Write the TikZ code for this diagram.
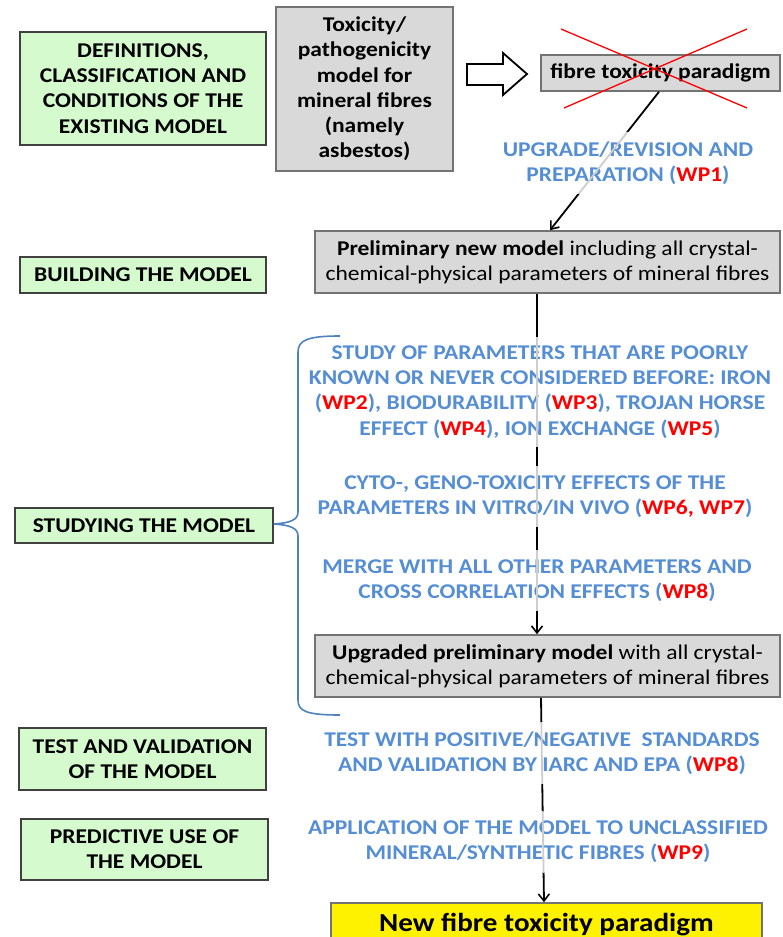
\documentclass[tikz,border=0pt]{standalone}
\usepackage{fontspec}
\setmainfont{Carlito}[FakeStretch=1.12]
\usetikzlibrary{arrows.meta,calc}
\definecolor{gfill}{RGB}{212,250,206}
\definecolor{boxgray}{RGB}{217,217,217}
\definecolor{bluetxt}{RGB}{85,142,213}
\definecolor{wpred}{RGB}{255,0,0}
\definecolor{bracecol}{RGB}{79,129,189}
\definecolor{ghostcol}{RGB}{205,205,205}
\newcommand{\wpr}[1]{{\color{wpred}#1}}
\begin{document}
\begin{tikzpicture}[x=1pt,y=-1pt,
  every node/.style={font=\fontsize{21}{25.2}\selectfont},
  greenbox/.style={draw=black!75, line width=1.2pt, fill=gfill, align=center, inner sep=0pt, font=\fontsize{21}{25.2}\selectfont\bfseries},
  graybox/.style={draw=black!55, line width=1.6pt, fill=boxgray, align=center, inner sep=0pt},
  bluetext/.style={text=bluetxt, align=center, fill=white, inner xsep=3pt, inner ysep=9pt, font=\fontsize{21}{25.2}\selectfont\bfseries},
  conn/.style={draw=black, line width=1.8pt, -{Straight Barb[length=7pt,width=11pt,line width=1.6pt]}},
  ghost/.style={draw=ghostcol, line width=1.8pt},
  bracestyle/.style={draw=bracecol, line width=1.6pt}
]
\useasboundingbox (0,0) rectangle (782,937);

% green category boxes
\node[greenbox, minimum width=246pt, minimum height=113pt] (g1) at (143,88.5) {DEFINITIONS,\\CLASSIFICATION AND\\CONDITIONS OF THE\\EXISTING MODEL};
\node[greenbox, minimum width=246pt, minimum height=36pt] (g2) at (143,275) {BUILDING THE MODEL};
\node[greenbox, minimum width=258pt, minimum height=35pt] (g3) at (144,525.5) {STUDYING THE MODEL};
\node[greenbox, minimum width=247pt, minimum height=62pt] (g4) at (142.5,759) {TEST AND VALIDATION\\OF THE MODEL};
\node[greenbox, minimum width=247pt, minimum height=61pt] (g5) at (144.5,849.5) {PREDICTIVE USE OF\\THE MODEL};

% gray model boxes
\node[graybox, minimum width=177pt, minimum height=164pt, font=\fontsize{21}{25.2}\selectfont\bfseries] (tox) at (364.5,89) {Toxicity/\\pathogenicity\\model for\\mineral fibres\\(namely\\asbestos)};
\node[graybox, minimum width=239pt, minimum height=36pt, font=\fontsize{21}{25.2}\selectfont\bfseries] (par) at (660.5,73) {fibre toxicity paradigm};
\node[graybox, minimum width=465pt, minimum height=62pt] (prelim) at (547.5,262) {\textbf{Preliminary new model} including all crystal-\\chemical-physical parameters of mineral fibres};
\node[graybox, minimum width=465pt, minimum height=62pt] (upg) at (547.5,666) {\textbf{Upgraded preliminary model} with all crystal-\\chemical-physical parameters of mineral fibres};
\node[draw=black!55, line width=1.6pt, fill=yellow, minimum width=431pt, minimum height=44pt, font=\fontsize{26}{30}\selectfont\bfseries] (yel) at (546.5,925) {New fibre toxicity paradigm};

% hollow block arrow
\draw[line width=1.8pt, fill=white] (467,64) -- (503,64) -- (503,53) -- (527,74) -- (503,95) -- (503,85) -- (467,85) -- cycle;

% crossing out
\draw[wpred, line width=1.3pt] (561,29) -- (747,108);
\draw[wpred, line width=1.3pt] (747,29) -- (564,108);

% connectors
\coordinate (a0) at ($(par.south)+(-1.5,0)$);
\coordinate (a1) at ($(prelim.north)+(2.5,0)$);
\draw[conn] (a0) -- (a1);
\coordinate (b0) at ($(prelim.south)+(-10.5,0)$);
\coordinate (b1) at ($(upg.north)+(-10.5,0)$);
\draw[conn] (b0) -- (b1);
\coordinate (c0) at ($(upg.south)+(-6.5,0)$);
\coordinate (c1) at ($(yel.north)+(-2.5,0)$);
\draw[conn] (c0) -- (c1);

% blue step texts
\node[bluetext] (t0) at (628,163) {UPGRADE/REVISION AND\\PREPARATION (\wpr{WP1})};
\node[bluetext] (t1) at (540,392) {STUDY OF PARAMETERS THAT ARE POORLY\\KNOWN OR NEVER CONSIDERED BEFORE: IRON\\(\wpr{WP2}), BIODURABILITY (\wpr{WP3}), TROJAN HORSE\\EFFECT (\wpr{WP4}), ION EXCHANGE (\wpr{WP5})};
\node[bluetext] (t2) at (535,496.5) {CYTO-, GENO-TOXICITY EFFECTS OF THE\\PARAMETERS IN VITRO/IN VIVO (\wpr{WP6, WP7})};
\node[bluetext] (t3) at (537,580.5) {MERGE WITH ALL OTHER PARAMETERS AND\\CROSS CORRELATION EFFECTS (\wpr{WP8})};
\node[bluetext] (t4) at (542,753) {TEST WITH POSITIVE/NEGATIVE\ \ STANDARDS\\AND VALIDATION BY IARC AND EPA (\wpr{WP8})};
\node[bluetext] (t5) at (538,842) {APPLICATION OF THE MODEL TO UNCLASSIFIED\\MINERAL/SYNTHETIC FIBRES (\wpr{WP9})};

% faint line through the texts
\begin{scope}
\clip (t0.north west) rectangle (t0.south east);
\draw[ghost] (a0) -- (a1);
\end{scope}
\foreach \t in {t1,t2,t3} {
  \draw[ghost] (b0 |- \t.north) -- (b0 |- \t.south);
}
\foreach \t in {t4,t5} {
  \begin{scope}
  \clip (\t.north west) rectangle (\t.south east);
  \draw[ghost] (c0) -- (c1);
  \end{scope}
}

% brace
\draw[bracestyle] (340,336) .. controls (308,336) and (298,340) .. (298,352) -- (298,512) .. controls (298,520) and (290,523) .. (g3.east |- 0,524) .. controls (290,525) and (298,528) .. (298,536) -- (298,700) .. controls (298,711) and (306,715) .. (340,715);
\end{tikzpicture}
\end{document}
